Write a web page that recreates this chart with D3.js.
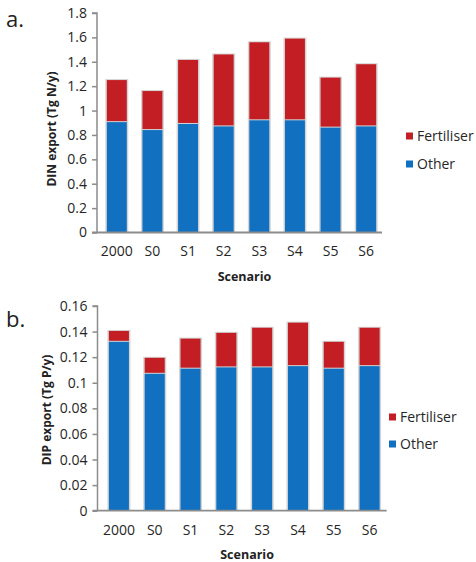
<!DOCTYPE html>
<html><head><meta charset="utf-8">
<script src="https://cdn.jsdelivr.net/npm/d3@7"></script>
<style>body{margin:0;background:#fff}svg{display:block}</style>
</head><body>
<script>
const categories = ["2000","S0","S1","S2","S3","S4","S5","S6"];
const dinOther = [0.905,0.84,0.89,0.87,0.92,0.92,0.86,0.87];
const dinFert  = [0.345,0.32,0.525,0.59,0.64,0.67,0.41,0.51];
const dipOther = [0.132,0.107,0.111,0.112,0.112,0.113,0.111,0.113];
const dipFert  = [0.0085,0.0125,0.0235,0.027,0.031,0.034,0.021,0.030];
const dinTicks = [0,0.2,0.4,0.6,0.8,1,1.2,1.4,1.6,1.8];
const dipTicks = [0,0.02,0.04,0.06,0.08,0.1,0.12,0.14,0.16];
const seriesNames = ["Fertiliser","Other"];
const colors = {Fertiliser:"#c41e25", Other:"#1170c0"};

const svg = d3.select("body").append("svg").attr("width",476).attr("height",562);
const font = "'Open Sans', Lato, sans-serif";

function panel(cfg){
  const g = svg.append("g");
  const x = d3.scaleBand().domain(categories).range(cfg.xr).paddingInner(0.44).paddingOuter(0.22);
  const y = d3.scaleLinear().domain([0,cfg.max]).range([cfg.y0,cfg.y1]);
  const data = categories.map((c,i)=>({c, o:cfg.other[i], f:cfg.fert[i]}));
  g.selectAll(".sh").data(data).enter().append("rect")
    .attr("x",d=>x(d.c)-1.5).attr("width",x.bandwidth()+3)
    .attr("y",d=>y(d.o+d.f)-1).attr("height",d=>cfg.y0-y(d.o+d.f)+1)
    .attr("fill","#d4d4d4");
  g.selectAll(".o").data(data).enter().append("rect")
    .attr("x",d=>x(d.c)).attr("width",x.bandwidth())
    .attr("y",d=>y(d.o)).attr("height",d=>cfg.y0-y(d.o))
    .attr("fill",colors.Other);
  g.selectAll(".f").data(data).enter().append("rect")
    .attr("x",d=>x(d.c)).attr("width",x.bandwidth())
    .attr("y",d=>y(d.o+d.f)).attr("height",d=>y(d.o)-y(d.o+d.f)-1)
    .attr("fill",colors.Fertiliser);
  const ya = g.append("g").attr("transform",`translate(${cfg.ax0},0)`)
    .call(d3.axisLeft(y).tickValues(cfg.ticks).tickSize(5).tickPadding(5).tickFormat(d=>String(d)));
  ya.select(".domain").attr("stroke","#8c8c8c").attr("stroke-width",1.5).attr("d",`M-5,${cfg.y1}H0V${cfg.y0}`);
  ya.selectAll(".tick line").attr("stroke","#8c8c8c").attr("stroke-width",1.5);
  ya.selectAll(".tick text").attr("font-family",font).attr("font-size",14).attr("fill","#262626");
  const xa = g.append("g").attr("transform",`translate(0,${cfg.y0})`)
    .call(d3.axisBottom(x).tickSize(0).tickPadding(14));
  xa.select(".domain").attr("stroke","#8c8c8c").attr("stroke-width",1.8).attr("d",`M${cfg.ax0-5},0H${cfg.ax1}`);
  xa.selectAll(".tick text").attr("font-family",font).attr("font-size",14).attr("fill","#262626");
  g.append("text").attr("x",(cfg.ax0+cfg.ax1)/2+5).attr("y",cfg.xtY)
    .attr("text-anchor","middle").attr("font-family",font).attr("font-weight","bold").attr("font-size",12.5).attr("fill","#222").text("Scenario");
  g.append("text").attr("transform",`translate(${cfg.ytX},${cfg.ytY}) rotate(-90)`)
    .attr("text-anchor","middle").attr("font-family",font).attr("font-weight","bold").attr("font-size",12).attr("fill","#222").text(cfg.ytitle);
  g.append("text").attr("x",6).attr("y",cfg.labY).attr("font-family",font).attr("font-size",22).attr("fill","#222").text(cfg.label);
  seriesNames.forEach((s,i)=>{
    const ly = cfg.legY + i*cfg.legGap;
    g.append("rect").attr("x",cfg.legX).attr("y",ly-3.5).attr("width",7).attr("height",7).attr("fill",colors[s]);
    g.append("text").attr("x",cfg.legX+11).attr("y",ly).attr("dy","0.35em").attr("font-family",font).attr("font-size",14).attr("fill","#262626").text(s);
  });
}

panel({xr:[99,384], y0:232.5, y1:13, max:1.8, ticks:dinTicks, other:dinOther, fert:dinFert,
  ax0:97, ax1:382, xtY:281, ytX:56, ytY:129, ytitle:"DIN export (Tg N/y)", label:"a.", labY:27,
  legX:406, legY:136, legGap:28});
panel({xr:[101,387.5], y0:510.7, y1:306, max:0.16, ticks:dipTicks, other:dipOther, fert:dipFert,
  ax0:97.5, ax1:386.7, xtY:559, ytX:51, ytY:410, ytitle:"DIP export (Tg P/y)", label:"b.", labY:327,
  legX:389, legY:417, legGap:27});
</script>
</body></html>
